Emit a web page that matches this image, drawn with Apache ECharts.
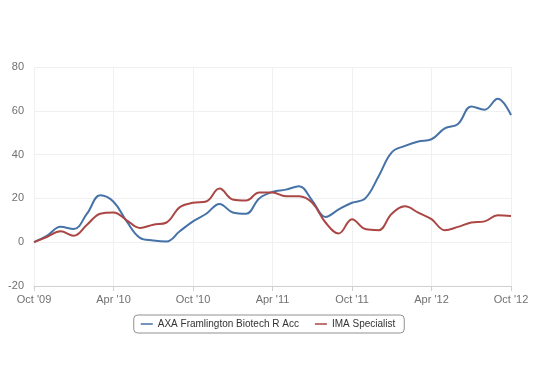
<!DOCTYPE html>
<html><head><meta charset="utf-8">
<script src="https://cdn.jsdelivr.net/npm/echarts@6/dist/echarts.min.js"></script>
<style>html,body{margin:0;padding:0;background:#fff}#c{width:536px;height:375px}</style>
</head><body><div id="c"></div>
<script>
var months = ["Oct '09","Nov '09","Dec '09","Jan '10","Feb '10","Mar '10","Apr '10","May '10","Jun '10","Jul '10","Aug '10","Sep '10",
"Oct '10","Nov '10","Dec '10","Jan '11","Feb '11","Mar '11","Apr '11","May '11","Jun '11","Jul '11","Aug '11","Sep '11",
"Oct '11","Nov '11","Dec '11","Jan '12","Feb '12","Mar '12","Apr '12","May '12","Jun '12","Jul '12","Aug '12","Sep '12","Oct '12"];
var axaFund = [0,3,7,6,13,21.4,18.5,9.5,2,0.8,0.3,5,9.5,13,17.5,13.6,13,20,23,24,25.5,19,11.5,15,18,20,30,41,44,46,47,52,54,62,60.5,65.5,58];
var imaSpecialist = [0,2.5,5,3,8,13,13.6,10,6.5,8,9,16,18,18.6,24.5,19.5,19,22.7,22.7,21,21,18,9,4,10.5,6,5.5,13,16.4,13.5,10.5,5.5,7,9,9.5,12.3,12];
var seriesNames = ["AXA Framlington Biotech R Acc","IMA Specialist"];
var yTicks = {min:-20, max:80, interval:20};

var chart = echarts.init(document.getElementById('c'), null, {renderer:'canvas'});
chart.setOption({
  animation:false,
  color:['#4572a7','#aa4643'],
  grid:{left:34,right:25,top:67,bottom:89},
  legend:{
    bottom:42,left:'center',
    data:seriesNames,
    icon:'path://M0,0 L16,0 L16,2 L0,2 Z',
    itemWidth:12,itemHeight:2,itemGap:16,
    borderColor:'#909090',borderWidth:1,borderRadius:4,
    padding:[4,9,4,7],
    textStyle:{color:'#333',fontSize:10,fontFamily:'Liberation Sans, Arial, sans-serif'}
  },
  xAxis:{
    type:'category',boundaryGap:false,data:months,
    axisLine:{onZero:false,lineStyle:{color:'#d0d0d0'}},
    axisTick:{interval:5,length:5,lineStyle:{color:'#d0d0d0'}},
    axisLabel:{interval:5,color:'#707070',fontSize:11,margin:8,fontFamily:'Liberation Sans, Arial, sans-serif'},
    splitLine:{show:true,interval:5,lineStyle:{color:'#f0f0f0'}}
  },
  yAxis:{
    type:'value',min:yTicks.min,max:yTicks.max,interval:yTicks.interval,
    axisLine:{show:false},axisTick:{show:false},
    axisLabel:{color:'#707070',fontSize:11,margin:10,fontFamily:'Liberation Sans, Arial, sans-serif'},
    splitLine:{lineStyle:{color:'#f0f0f0'}}
  },
  series:[
    {name:seriesNames[0],type:'line',data:axaFund,smooth:0.4,showSymbol:false,lineStyle:{width:2}},
    {name:seriesNames[1],type:'line',data:imaSpecialist,smooth:0.4,showSymbol:false,lineStyle:{width:2}}
  ]
});
</script></body></html>
